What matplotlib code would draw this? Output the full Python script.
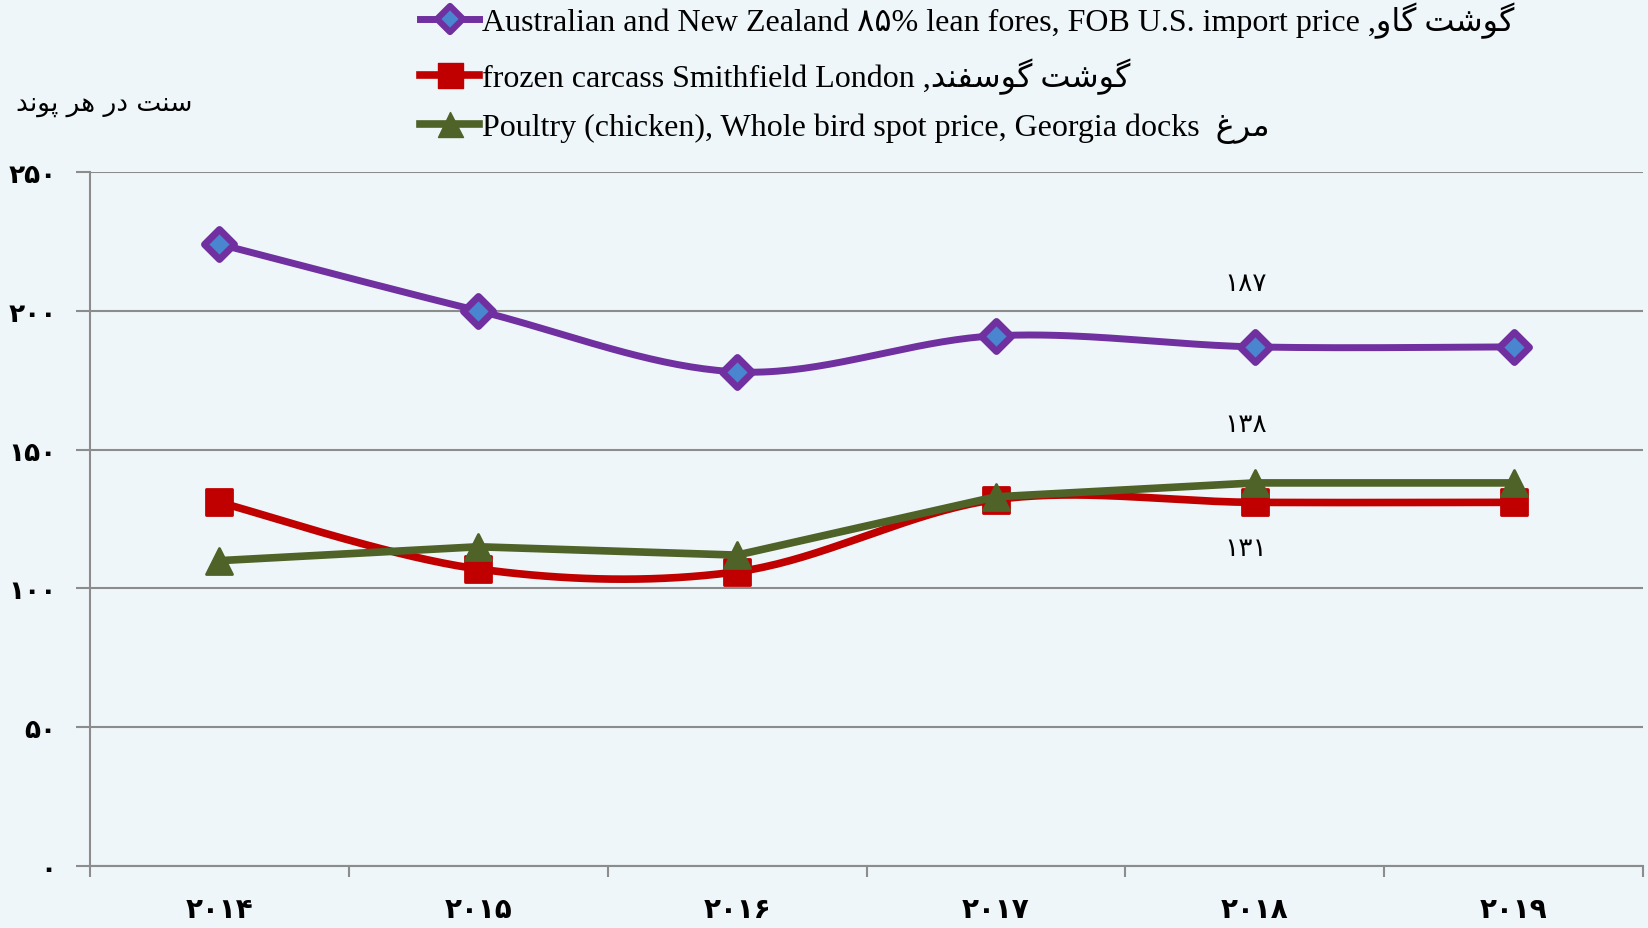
import numpy as np
import matplotlib
matplotlib.use("Agg")
import matplotlib.pyplot as plt
from matplotlib.lines import Line2D
from matplotlib.markers import MarkerStyle

# data (cents per pound)
years = ["۲۰۱۴", "۲۰۱۵", "۲۰۱۶", "۲۰۱۷", "۲۰۱۸", "۲۰۱۹"]
beef = [224, 200, 178, 191, 187, 187]
lamb = [131, 107, 106, 132, 131, 131]
chicken = [110, 115, 112, 133, 138, 138]
yticks = [0, 50, 100, 150, 200, 250]
ytick_labels = ["۰", "۵۰", "۱۰۰", "۱۵۰", "۲۰۰", "۲۵۰"]

# labels shown next to the 2018 points
label_idx = 4
beef_label = "۱۸۷"
chicken_label = "۱۳۸"
lamb_label = "۱۳۱"

# persian text, written in visual order with presentation forms
gosht = "\uFE96\uFEB7\uFEEE\uFB94"
gav = "\uFEED\uFE8E\uFB94"
gusfand = "\uFEAA\uFEE8\uFED4\uFEB3\uFEEE\uFB94"
morgh = "\uFECD\uFEAE\uFEE3"
ytitle = "\uFEAA\uFEE7\uFEEE\uFB58 \uFEAE\uFEEB \uFEAD\uFEA9 \uFE96\uFEE8\uFEB3"

beef_name = "Australian and New Zealand ۸۵% lean fores, FOB U.S. import price ," + gav + " " + gosht
lamb_name = "frozen carcass Smithfield London ," + gusfand + " " + gosht
chicken_name = "Poultry (chicken), Whole bird spot price, Georgia docks  " + morgh

PURPLE = "#7030A0"
RED = "#C00000"
GREEN = "#4F6228"
BG = "#EEF6F9"
GRID = "#8C8C8C"


def smooth(xs, ys, n=40):
    """Excel-like smoothed line through the points."""
    pts = np.column_stack([xs, ys]).astype(float)
    out = [pts[0]]
    t = np.linspace(0, 1, n)[1:, None]
    for i in range(len(pts) - 1):
        p0 = pts[i - 1] if i > 0 else pts[i]
        p1, p2 = pts[i], pts[i + 1]
        p3 = pts[i + 2] if i + 2 < len(pts) else pts[i + 1]
        c1 = p1 + (p2 - p0) / 6
        c2 = p2 - (p3 - p1) / 6
        seg = (1 - t) ** 3 * p1 + 3 * (1 - t) ** 2 * t * c1 + 3 * (1 - t) * t ** 2 * c2 + t ** 3 * p2
        out.extend(seg)
    out = np.array(out)
    return out[:, 0], out[:, 1]


fig = plt.figure(figsize=(16.48, 9.29), dpi=100, facecolor=BG)
ax = fig.add_axes([0.0546, 0.0667, 0.9424, 0.7471])
ax.set_facecolor(BG)

x = np.arange(len(years))

diamond = MarkerStyle("D", joinstyle="round")
square = MarkerStyle("s", joinstyle="round")
triangle = MarkerStyle("^", joinstyle="round")

sx, sy = smooth(x, beef)
ax.plot(sx, sy, color=PURPLE, lw=5, zorder=3, solid_capstyle="round")
ax.plot(x, beef, ls="none", marker=diamond, ms=15, mfc="#4A86D0", mec=PURPLE, mew=5, zorder=4)

sx, sy = smooth(x, lamb)
ax.plot(sx, sy, color=RED, lw=5.5, zorder=3, solid_capstyle="round")
ax.plot(x, lamb, ls="none", marker=square, ms=19, mfc=RED, mec=RED, mew=2, zorder=4)

ax.plot(x, chicken, color=GREEN, lw=5.5, zorder=5, solid_joinstyle="round")
ax.plot(x, chicken, ls="none", marker=triangle, ms=19, mfc=GREEN, mec=GREEN, mew=2, zorder=6)

lab_font = dict(family="DejaVu Sans", fontsize=19, color="black", ha="center", va="center")
ax.annotate(beef_label, (x[label_idx], beef[label_idx]), xytext=(-9, 64),
            textcoords="offset pixels", **lab_font)
ax.annotate(chicken_label, (x[label_idx], chicken[label_idx]), xytext=(-9, 59),
            textcoords="offset pixels", **lab_font)
ax.annotate(lamb_label, (x[label_idx], lamb[label_idx]), xytext=(-9, -46),
            textcoords="offset pixels", **lab_font)

ax.set_xlim(-0.5, len(years) - 0.5)
ax.set_ylim(0, 250)
ax.set_yticks(yticks)
ax.set_yticklabels(ytick_labels, fontsize=19, fontweight="bold", family="DejaVu Sans")
ax.set_xticks(x)
ax.set_xticklabels(years, fontsize=20, fontweight="bold", family="DejaVu Sans")
ax.set_xticks(np.arange(-0.5, len(years), 1), minor=True)
ax.tick_params(axis="x", which="major", length=0, pad=21)
ax.tick_params(axis="x", which="minor", length=8, width=1.5, color=GRID, direction="out")
ax.tick_params(axis="y", length=10, width=1.5, color=GRID, direction="out", pad=14)

ax.grid(axis="y", color=GRID, lw=1.5)
ax.set_axisbelow(True)
for side in ["top", "right"]:
    ax.spines[side].set_visible(False)
for side in ["left", "bottom"]:
    ax.spines[side].set_color(GRID)
    ax.spines[side].set_linewidth(1.5)

fig.text(0.0097, 0.888, ytitle, fontsize=19, family="DejaVu Sans", ha="left", va="center")

handles = [
    Line2D([], [], color=PURPLE, lw=5, marker=diamond, ms=13, mfc="#4A86D0", mec=PURPLE, mew=4.5),
    Line2D([], [], color=RED, lw=5.5, marker=square, ms=18, mfc=RED, mec=RED),
    Line2D([], [], color=GREEN, lw=5.5, marker=triangle, ms=18, mfc=GREEN, mec=GREEN),
]
fig.legend(handles, [beef_name, lamb_name, chicken_name], loc="upper left",
           bbox_to_anchor=(0.255, 0.997), frameon=False, borderpad=0, borderaxespad=0,
           handlelength=1.85, handletextpad=0.08, labelspacing=0.6,
           prop={"family": ["Liberation Serif", "DejaVu Sans"], "size": 23})

fig.savefig("out.png", dpi=100, facecolor=BG)
